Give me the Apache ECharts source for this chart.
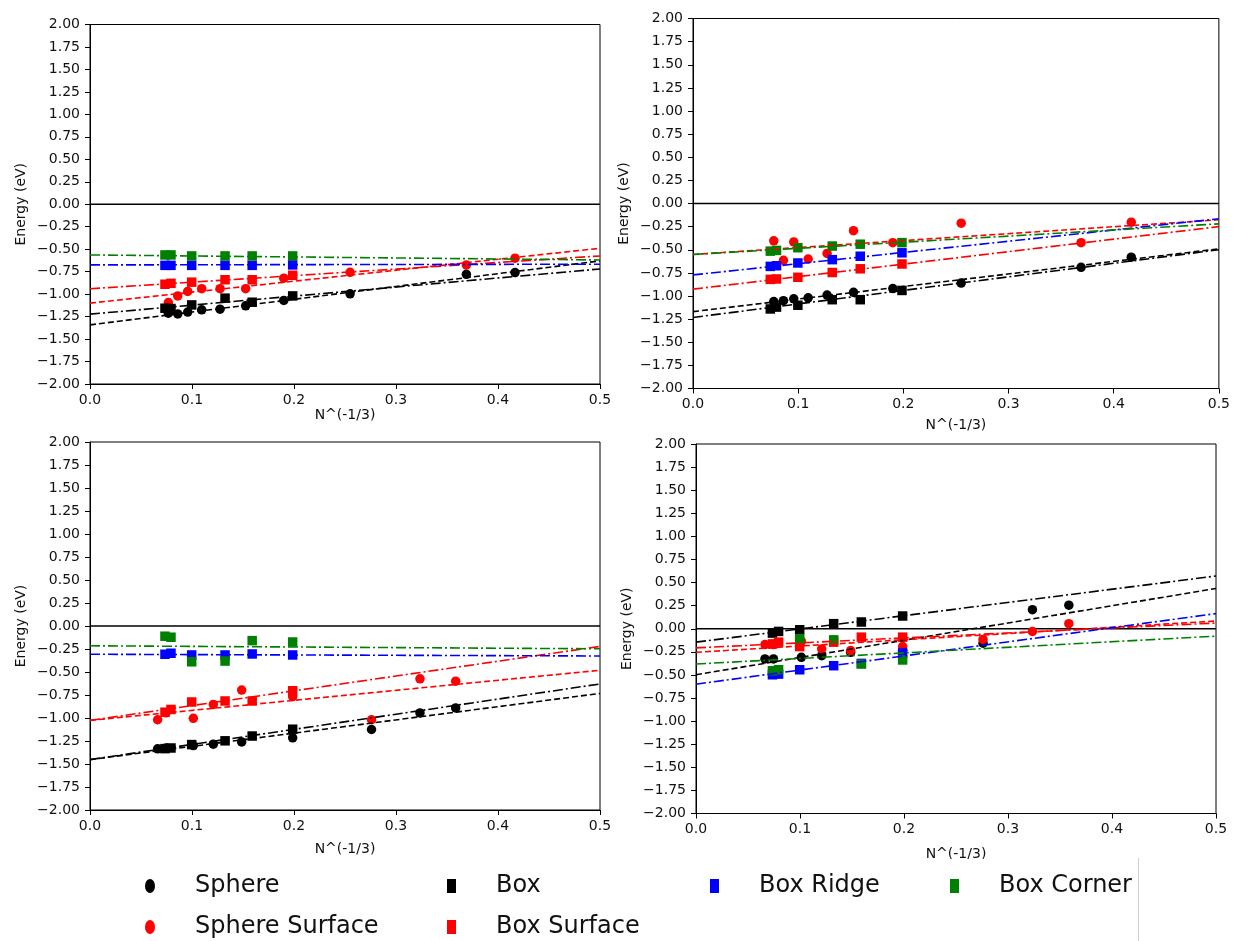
<!DOCTYPE html>
<html><head><meta charset="utf-8">
<script src="https://cdn.jsdelivr.net/npm/echarts@6/dist/echarts.min.js"></script>
<style>html,body{margin:0;padding:0;background:#fff}#c{width:1233px;height:941px}</style>
</head><body><div id="c"></div>
<script>
// ---------- DATA ----------
const seriesNames = ['Sphere', 'Sphere Surface', 'Box', 'Box Surface', 'Box Ridge', 'Box Corner'];
const xTicks = [0.0, 0.1, 0.2, 0.3, 0.4, 0.5];
const fitX = [0, 0.5];

// x positions (N^(-1/3))
const sphereXTop = [0.0768, 0.086, 0.0958, 0.1095, 0.1275, 0.1526, 0.190, 0.255, 0.369, 0.4167];
const sphereXBottom = [0.0663, 0.0745, 0.1013, 0.1209, 0.1487, 0.1987, 0.276, 0.3235, 0.3585];
const boxX = [0.0735, 0.0794, 0.0997, 0.1324, 0.159, 0.1987];

// top-left panel
const tlSphere = [-1.212, -1.22, -1.20, -1.175, -1.167, -1.13, -1.07, -0.997, -0.78, -0.76];
const tlSphereSurface = [-1.094, -1.02, -0.97, -0.94, -0.94, -0.94, -0.823, -0.757, -0.675, -0.60];
const tlBox = [-1.157, -1.16, -1.12, -1.045, -1.09, -1.02];
const tlBoxSurface = [-0.89, -0.88, -0.867, -0.84, -0.84, -0.79];
const tlBoxRidge = [-0.68, -0.68, -0.68, -0.68, -0.68, -0.675];
const tlBoxCorner = [-0.564, -0.564, -0.575, -0.575, -0.575, -0.575];
// fit lines: [value at x=0, value at x=0.5]
const tlFitSphere = [-1.342, -0.63];
const tlFitSphereSurface = [-1.10, -0.49];
const tlFitBox = [-1.223, -0.72];
const tlFitBoxSurface = [-0.94, -0.575];
const tlFitBoxRidge = [-0.675, -0.667];
const tlFitBoxCorner = [-0.564, -0.62];

// top-right panel
const trSphere = [-1.06, -1.05, -1.03, -1.02, -0.99, -0.96, -0.92, -0.86, -0.69, -0.58];
const trSphereSurface = [-0.404, -0.614, -0.415, -0.60, -0.54, -0.294, -0.423, -0.213, -0.423, -0.202];
const trBox = [-1.14, -1.12, -1.10, -1.04, -1.04, -0.94];
const trBoxSurface = [-0.82, -0.816, -0.798, -0.746, -0.706, -0.654];
const trBoxRidge = [-0.68, -0.673, -0.643, -0.607, -0.57, -0.533];
const trBoxCorner = [-0.515, -0.507, -0.478, -0.46, -0.44, -0.423];
const trFitSphere = [-1.169, -0.49];
const trFitSphereSurface = [-0.551, -0.176];
const trFitBox = [-1.232, -0.50];
const trFitBoxSurface = [-0.926, -0.25];
const trFitBoxRidge = [-0.772, -0.165];
const trFitBoxCorner = [-0.551, -0.22];

// bottom-left panel
const blSphere = [-1.335, -1.325, -1.30, -1.285, -1.26, -1.215, -1.125, -0.945, -0.89];
const blSphereSurface = [-1.019, -0.944, -1.004, -0.852, -0.696, -0.767, -1.019, -0.574, -0.60];
const blBox = [-1.333, -1.326, -1.289, -1.248, -1.196, -1.122];
const blBoxSurface = [-0.937, -0.907, -0.826, -0.815, -0.815, -0.704];
const blBoxRidge = [-0.307, -0.296, -0.315, -0.315, -0.304, -0.315];
const blBoxCorner = [-0.111, -0.122, -0.389, -0.381, -0.159, -0.174];
const blFitSphere = [-1.452, -0.733];
const blFitSphereSurface = [-1.026, -0.481];
const blFitBox = [-1.452, -0.63];
const blFitBoxSurface = [-1.026, -0.222];
const blFitBoxRidge = [-0.307, -0.326];
const blFitBoxCorner = [-0.215, -0.248];

// bottom-right panel
const brSphere = [-0.327, -0.327, -0.309, -0.291, -0.255, -0.236, -0.156, 0.207, 0.255];
const brSphereSurface = [-0.171, -0.171, -0.135, -0.218, -0.236, -0.193, -0.116, -0.029, 0.055];
const brBox = [-0.047, -0.029, -0.011, 0.055, 0.073, 0.138];
const brBoxSurface = [-0.164, -0.145, -0.193, -0.145, -0.091, -0.091];
const brBoxRidge = [-0.498, -0.491, -0.444, -0.40, -0.375, -0.262];
const brBoxCorner = [-0.455, -0.444, -0.109, -0.12, -0.382, -0.338];
const brFitSphere = [-0.498, 0.436];
const brFitSphereSurface = [-0.255, 0.084];
const brFitBox = [-0.145, 0.571];
const brFitBoxSurface = [-0.207, 0.062];
const brFitBoxRidge = [-0.60, 0.164];
const brFitBoxCorner = [-0.382, -0.08];

const zeroLine = [0, 0];

// ---------- BUILD ----------
const panels = [
  { grid: {left: 90, top: 24.5, width: 510, height: 359.5}, nameGap: 23, sx: sphereXTop,
    pts: [tlSphere, tlSphereSurface, tlBox, tlBoxSurface, tlBoxRidge, tlBoxCorner],
    fits: [tlFitSphere, tlFitSphereSurface, tlFitBox, tlFitBoxSurface, tlFitBoxRidge, tlFitBoxCorner] },
  { grid: {left: 693, top: 18.5, width: 526, height: 370}, nameGap: 30, sx: sphereXTop,
    pts: [trSphere, trSphereSurface, trBox, trBoxSurface, trBoxRidge, trBoxCorner],
    fits: [trFitSphere, trFitSphereSurface, trFitBox, trFitBoxSurface, trFitBoxRidge, trFitBoxCorner] },
  { grid: {left: 90, top: 442, width: 510, height: 368}, nameGap: 32, sx: sphereXBottom,
    pts: [blSphere, blSphereSurface, blBox, blBoxSurface, blBoxRidge, blBoxCorner],
    fits: [blFitSphere, blFitSphereSurface, blFitBox, blFitBoxSurface, blFitBoxRidge, blFitBoxCorner] },
  { grid: {left: 696, top: 444, width: 520, height: 369.5}, nameGap: 34, sx: sphereXBottom,
    pts: [brSphere, brSphereSurface, brBox, brBoxSurface, brBoxRidge, brBoxCorner],
    fits: [brFitSphere, brFitSphereSurface, brFitBox, brFitBoxSurface, brFitBoxRidge, brFitBoxCorner] }
];

const colors = ['#000000', '#ff0000', '#000000', '#ff0000', '#0000ff', '#008000'];
const symbols = ['circle', 'circle', 'rect', 'rect', 'rect', 'rect'];
const dashed = [6, 3];
const dashdot = [10, 3, 2, 3];
const lineTypes = [dashed, dashed, dashdot, dashdot, dashdot, dashdot];
const FONT = 'DejaVu Sans';
const fmtY = v => v.toFixed(2).replace('-', '\u2212');

const grids = [], xAxes = [], yAxes = [], series = [];
panels.forEach((p, i) => {
  grids.push(Object.assign({show: true, borderColor: '#000', borderWidth: 1, backgroundColor: '#fff'}, p.grid));
  xAxes.push({
    type: 'value', gridIndex: i, min: 0, max: 0.5, interval: 0.1,
    name: 'N^(-1/3)', nameLocation: 'middle', nameGap: p.nameGap,
    nameTextStyle: {fontFamily: FONT, fontSize: 14, color: '#111'},
    axisLine: {show: true, onZero: false, lineStyle: {color: '#000', width: 1}},
    axisTick: {show: true, length: 5, lineStyle: {color: '#000'}},
    axisLabel: {fontFamily: FONT, fontSize: 14, color: '#111', margin: 9, formatter: v => v.toFixed(1)},
    splitLine: {show: false}
  });
  yAxes.push({
    type: 'value', gridIndex: i, min: -2, max: 2, interval: 0.25,
    name: 'Energy (eV)', nameLocation: 'middle', nameGap: 62,
    nameTextStyle: {fontFamily: FONT, fontSize: 14, color: '#111'},
    axisLine: {show: true, onZero: false, lineStyle: {color: '#000', width: 1}},
    axisTick: {show: true, length: 5, lineStyle: {color: '#000'}},
    axisLabel: {fontFamily: FONT, fontSize: 14, color: '#111', margin: 10, formatter: fmtY},
    splitLine: {show: false}
  });
  // zero line
  series.push({
    type: 'line', name: 'zero', xAxisIndex: i, yAxisIndex: i, silent: true,
    data: fitX.map((x, k) => [x, zeroLine[k]]), symbol: 'none',
    lineStyle: {color: '#000', width: 1.5, type: 'solid'}, z: 3
  });
  // scatter points
  seriesNames.forEach((nm, j) => {
    const xs = j < 2 ? p.sx : boxX;
    series.push({
      type: 'scatter', name: nm, xAxisIndex: i, yAxisIndex: i,
      data: p.pts[j].map((y, k) => [xs[k], y]),
      symbol: symbols[j], symbolSize: 9.5,
      itemStyle: {color: colors[j], opacity: 1}, z: 4
    });
  });
  // fit lines
  seriesNames.forEach((nm, j) => {
    series.push({
      type: 'line', name: nm + ' fit', xAxisIndex: i, yAxisIndex: i, silent: true,
      data: fitX.map((x, k) => [x, p.fits[j][k]]), symbol: 'none',
      lineStyle: {color: colors[j], width: 1.6, type: lineTypes[j]}, z: 5
    });
  });
});

const ellipse = 'path://M0,7 A5,7 0 1 1 10,7 A5,7 0 1 1 0,7 Z';
const legendPos = [
  {name: 'Sphere', left: 145, top: 871, icon: ellipse},
  {name: 'Sphere Surface', left: 145, top: 912, icon: ellipse},
  {name: 'Box', left: 447, top: 871, icon: 'rect'},
  {name: 'Box Surface', left: 447, top: 912, icon: 'rect'},
  {name: 'Box Ridge', left: 710, top: 871, icon: 'rect'},
  {name: 'Box Corner', left: 950, top: 871, icon: 'rect'}
];
const legends = legendPos.map(l => ({
  data: [{name: l.name, icon: l.icon}], left: l.left, top: l.top, padding: 0, z: 200,
  itemWidth: l.icon === 'rect' ? 9 : 10, itemHeight: 14, selectedMode: false,
  textStyle: {fontFamily: FONT, fontSize: 24, color: '#111', lineHeight: 30, padding: [0, 0, 0, 35]}
}));

const chart = echarts.init(document.getElementById('c'), null, {renderer: 'canvas'});
chart.setOption({
  animation: false,
  backgroundColor: '#fff',
  grid: grids, xAxis: xAxes, yAxis: yAxes, series: series,
  legend: legends,
  graphic: {
    elements: [
      {type: 'rect', z: 100, shape: {x: 100, y: 859, width: 1038.5, height: 82}, style: {fill: '#fff'}},
      {type: 'line', z: 101, shape: {x1: 1138.5, y1: 858, x2: 1138.5, y2: 941}, style: {stroke: '#d0d0d0', lineWidth: 1}}
    ]
  }
});
</script></body></html>
